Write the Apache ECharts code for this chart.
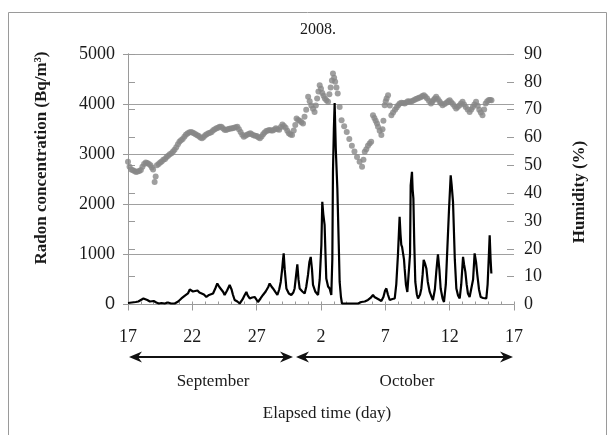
<!DOCTYPE html>
<html>
<head>
<meta charset="utf-8">
<script src="https://cdn.jsdelivr.net/npm/echarts@6/dist/echarts.min.js"></script>
<style>
html,body{margin:0;padding:0;background:#fff;}
#c{width:609px;height:435px;}
</style>
</head>
<body>
<div id="c"></div>
<script>
// x: elapsed days since 17 September 2008
const xTickLabels = ['17','22','27','2','7','12','17'];
const leftTicks = [0,1000,2000,3000,4000,5000];
const rightTicks = [0,10,20,30,40,50,60,70,80,90];

const radonDays = [0,0.15,0.3,0.45,0.6,0.8,1.0,1.2,1.3,1.5,1.7,1.81,2.0,2.2,2.4,2.6,2.85,3.1,3.35,3.63,3.9,4.15,4.4,4.66,4.8,4.92,5.05,5.18,5.4,5.55,5.7,5.9,6.09,6.3,6.45,6.61,6.8,6.94,7.1,7.25,7.4,7.51,7.7,7.9,8.05,8.15,8.29,8.5,8.68,8.9,9.05,9.2,9.3,9.46,9.65,9.84,10.0,10.1,10.3,10.49,10.7,10.9,11.01,11.15,11.27,11.45,11.61,11.75,11.87,11.98,12.05,12.1,12.18,12.31,12.5,12.69,12.85,12.95,13.05,13.16,13.25,13.34,13.55,13.73,13.85,13.99,14.1,14.2,14.3,14.38,14.55,14.77,14.9,15.03,15.1,15.18,15.28,15.35,15.41,15.55,15.67,15.8,15.88,15.93,16.0,16.06,16.15,16.27,16.38,16.45,16.55,16.63,17.1,17.5,17.88,18.0,18.13,18.4,18.65,18.85,19.04,19.15,19.3,19.5,19.69,19.85,19.98,20.08,20.2,20.34,20.55,20.73,20.85,20.98,21.05,21.11,21.18,21.24,21.3,21.37,21.45,21.5,21.6,21.71,21.84,21.92,21.97,22.03,22.07,22.12,22.18,22.25,22.33,22.45,22.54,22.7,22.8,22.9,22.98,23.08,23.19,23.3,23.45,23.6,23.7,23.85,23.96,24.05,24.09,24.2,24.3,24.45,24.56,24.7,24.82,24.95,25.08,25.15,25.26,25.4,25.52,25.65,25.78,25.9,26.04,26.12,26.22,26.32,26.42,26.55,26.68,26.82,26.94,27.05,27.15,27.28,27.41,27.6,27.85,27.95,28.05,28.11,28.18,28.24];
const radonValues = [30,60,40,70,50,60,90,120,100,90,60,40,70,40,20,30,20,40,20,20,60,120,170,220,300,320,260,240,280,240,270,200,150,190,170,220,330,420,350,320,250,190,280,390,300,200,90,60,20,100,180,250,180,120,140,150,90,50,120,190,260,350,420,360,320,250,190,300,450,700,900,1020,700,320,220,190,240,320,550,800,500,320,260,220,350,590,850,950,700,390,260,190,500,1190,2050,1800,1590,1000,520,360,320,190,900,2650,3500,4020,3100,2320,1200,450,150,20,20,20,20,40,50,60,90,130,190,150,120,100,70,150,280,320,200,90,110,120,400,990,1400,1750,1400,1190,1150,1120,900,720,400,250,220,1000,2380,2400,2650,2300,2120,1200,450,200,120,200,320,600,890,820,720,450,250,150,90,300,650,900,1000,700,320,120,50,400,1120,1900,2580,2400,2050,900,320,180,120,400,950,800,650,400,220,150,120,500,1020,850,590,300,150,130,120,400,1000,1380,900,620];

const humDays = [0,0.12,0.25,0.38,0.5,0.62,0.75,0.88,1.0,1.12,1.25,1.38,1.5,1.62,1.75,1.85,1.95,2.07,2.15,2.25,2.38,2.5,2.62,2.75,2.88,3.0,3.12,3.25,3.38,3.5,3.62,3.75,3.88,4.0,4.12,4.25,4.38,4.5,4.62,4.75,4.88,5.0,5.12,5.25,5.38,5.5,5.62,5.75,5.88,6.0,6.12,6.25,6.38,6.5,6.62,6.75,6.88,7.0,7.12,7.25,7.38,7.5,7.62,7.75,7.88,8.0,8.12,8.25,8.38,8.5,8.62,8.75,8.88,9.0,9.12,9.25,9.38,9.5,9.62,9.75,9.88,10.0,10.12,10.25,10.38,10.5,10.62,10.75,10.88,11.0,11.12,11.25,11.38,11.5,11.62,11.75,11.88,12.0,12.12,12.25,12.38,12.5,12.62,12.75,12.88,13.0,13.1,13.22,13.35,13.48,13.6,13.72,13.85,14.0,14.12,14.25,14.38,14.5,14.6,14.7,14.8,14.9,15.0,15.1,15.2,15.3,15.42,15.55,15.65,15.75,15.85,15.93,16.02,16.1,16.2,16.3,16.45,16.6,16.8,17.0,17.2,17.4,17.6,17.8,18.0,18.19,18.3,18.4,18.52,18.65,18.78,18.9,19.04,19.15,19.25,19.35,19.43,19.56,19.69,19.78,19.85,19.95,20.03,20.1,20.21,20.35,20.47,20.6,20.75,20.88,21.0,21.12,21.25,21.38,21.5,21.62,21.75,21.88,22.0,22.12,22.25,22.38,22.5,22.62,22.75,22.88,23.0,23.12,23.25,23.4,23.55,23.65,23.75,23.85,23.95,24.08,24.2,24.32,24.45,24.6,24.75,24.88,25.0,25.12,25.25,25.38,25.5,25.62,25.75,25.88,26.0,26.12,26.25,26.4,26.55,26.68,26.8,26.92,27.05,27.18,27.3,27.42,27.55,27.68,27.8,27.92,28.05,28.15,28.25];
const humValues = [51.3,49.5,48.5,48.2,48,47.6,47.8,48,48.3,49.5,50.5,51,50.8,50.5,50,49.2,48.5,44,46,50,50.5,51,51.4,52,52.3,53,53.4,54,54.3,55,55.6,56.5,57.6,58.5,59,59.5,60.3,61,61.4,61.8,62,61.8,61.5,61.2,60.8,60.5,60,59.7,60.2,60.8,61.2,61.5,61.7,62,62.6,63,63.3,63.5,63.9,63.9,63.3,62.8,62.7,63,63.1,63.2,63.3,63.5,63.7,63.9,63,62,61,60.3,60.6,61,61.3,61.5,61.2,60.8,60.6,60.5,60.1,59.7,60.4,61.2,61.8,62.3,62.5,62.7,62.5,62.5,62.9,63.3,63,62.8,63.8,64.7,64.1,63.5,62.4,61.5,61.1,60.9,62.5,64.5,66.8,66.3,66,65.5,65,67.5,70,74.6,73,71.5,70.3,69.2,71.5,74,76.5,78.8,77.5,76,75,74,73.4,72.8,75.5,78,80.5,83,81.5,80,78,75.8,71,66.2,64,62,59.5,57,55,53,51.3,49.5,52,54.9,55.8,57,57.8,58.5,68,67,66,65,63.9,62.4,60.9,63,66,71.6,73,74,75.2,71.5,68,69,70,70.8,71.6,72.2,72.5,72.4,72.2,72.6,73,72.9,72.8,73.2,73.5,73.8,74,74.3,74.5,74.9,75.2,74.6,74,73.1,72.2,72.8,73.5,74,74.6,73.8,73,72.3,71.6,72,72.5,73,73.4,72.7,72,71.2,70.4,71,71.5,72.2,72.8,71.9,71,70.1,69.2,70.1,71,71.9,72.8,71.4,70,69,68,70.1,72.2,73,73.5,73.5,73.4];

const radonData = radonDays.map((d,i)=>[d, radonValues[i]]);
const humData = humDays.map((d,i)=>[d, humValues[i]]);

const serif = '"Liberation Serif","Times New Roman",serif';
const txt = '#1a1a1a';
const gray = '#9a9a9a';

function arrowHead(tipX, y, dir){
  const L = 13, H = 5.5, N = 4;
  return [[tipX, y],[tipX - dir*L, y - H],[tipX - dir*(L-N), y],[tipX - dir*L, y + H]];
}
const arrowY = 357;
const arrows = [[129,293],[296,513]];
const arrowGraphics = [];
arrows.forEach(a=>{
  arrowGraphics.push({type:'line', shape:{x1:a[0]+6,y1:arrowY,x2:a[1]-6,y2:arrowY}, style:{stroke:'#111',lineWidth:2}});
  arrowGraphics.push({type:'polygon', shape:{points:arrowHead(a[0],arrowY,-1)}, style:{fill:'#111'}});
  arrowGraphics.push({type:'polygon', shape:{points:arrowHead(a[1],arrowY,1)}, style:{fill:'#111'}});
});

const chart = echarts.init(document.getElementById('c'), null, {renderer:'canvas'});
chart.setOption({
  animation:false,
  backgroundColor:'#fff',
  grid:{left:128, right:95, top:54, bottom:130.5, containLabel:false},
  xAxis:[{
    type:'value', min:0, max:30, interval:5,
    axisLine:{show:true, onZero:false, lineStyle:{color:gray,width:1}},
    axisTick:{show:true, inside:false, length:6, lineStyle:{color:gray}},
    splitLine:{show:false},
    axisLabel:{margin:24, fontFamily:serif, fontSize:18, color:txt,
      formatter:v=>xTickLabels[Math.round(v/5)]}
  },{
    type:'value', min:0, max:30, interval:1, position:'bottom',
    axisLine:{show:false},
    axisTick:{show:true, inside:true, length:3, lineStyle:{color:gray}},
    splitLine:{show:false}, axisLabel:{show:false}
  }],
  yAxis:[{
    type:'value', min:0, max:5000, interval:1000, position:'left',
    axisLine:{show:true, lineStyle:{color:gray}},
    axisTick:{show:true, inside:false, length:5, lineStyle:{color:gray}},
    splitLine:{show:true, lineStyle:{color:'#a0a0a0', width:1}},
    axisLabel:{margin:13, fontFamily:serif, fontSize:18, color:txt,
      formatter:v=> v===0 ? '{s|0}' : String(v),
      rich:{s:{fontFamily:'"Liberation Sans",Arial,sans-serif', fontSize:18, color:txt}}}
  },{
    type:'value', min:0, max:90, interval:10, position:'right',
    axisLine:{show:true, lineStyle:{color:gray}},
    axisTick:{show:true, inside:false, length:7, lineStyle:{color:gray}},
    splitLine:{show:false},
    axisLabel:{margin:10, fontFamily:serif, fontSize:18, color:txt}
  },{
    type:'value', min:0, max:90, interval:10, position:'right',
    axisLine:{show:false},
    axisTick:{show:true, inside:true, length:7, lineStyle:{color:gray}},
    splitLine:{show:false}, axisLabel:{show:false}
  }],
  series:[{
    name:'Humidity', type:'scatter', xAxisIndex:0, yAxisIndex:1,
    data:humData, symbol:'circle', symbolSize:6,
    itemStyle:{color:'#878787'}, z:2
  },{
    name:'Radon', type:'line', xAxisIndex:0, yAxisIndex:0,
    data:radonData, showSymbol:false, symbol:'none',
    lineStyle:{color:'#000', width:2.2}, z:3
  }],
  graphic:[
    {type:'rect', shape:{x:8.5,y:12.5,width:598,height:440}, style:{fill:'none',stroke:'#9a9a9a',lineWidth:1}, silent:true},
    {type:'text', x:318, y:30, style:{text:'2008.', fontFamily:serif, fontSize:16, fill:txt, textAlign:'center', textVerticalAlign:'middle'}},
    {type:'text', x:42, y:158, rotation:Math.PI/2, style:{text:'Radon concentration (Bq/m³)', fontFamily:serif, fontWeight:'bold', fontSize:17, fill:txt, textAlign:'center', textVerticalAlign:'middle'}},
    {type:'text', x:580, y:192, rotation:Math.PI/2, style:{text:'Humidity (%)', fontFamily:serif, fontWeight:'bold', fontSize:17, fill:txt, textAlign:'center', textVerticalAlign:'middle'}},
    {type:'text', x:213, y:382, style:{text:'September', fontFamily:serif, fontSize:17, fill:txt, textAlign:'center', textVerticalAlign:'middle'}},
    {type:'text', x:407, y:382, style:{text:'October', fontFamily:serif, fontSize:17, fill:txt, textAlign:'center', textVerticalAlign:'middle'}},
    {type:'text', x:327, y:414, style:{text:'Elapsed time (day)', fontFamily:serif, fontSize:17, fill:txt, textAlign:'center', textVerticalAlign:'middle'}}
  ].concat(arrowGraphics)
});
</script>
</body>
</html>
